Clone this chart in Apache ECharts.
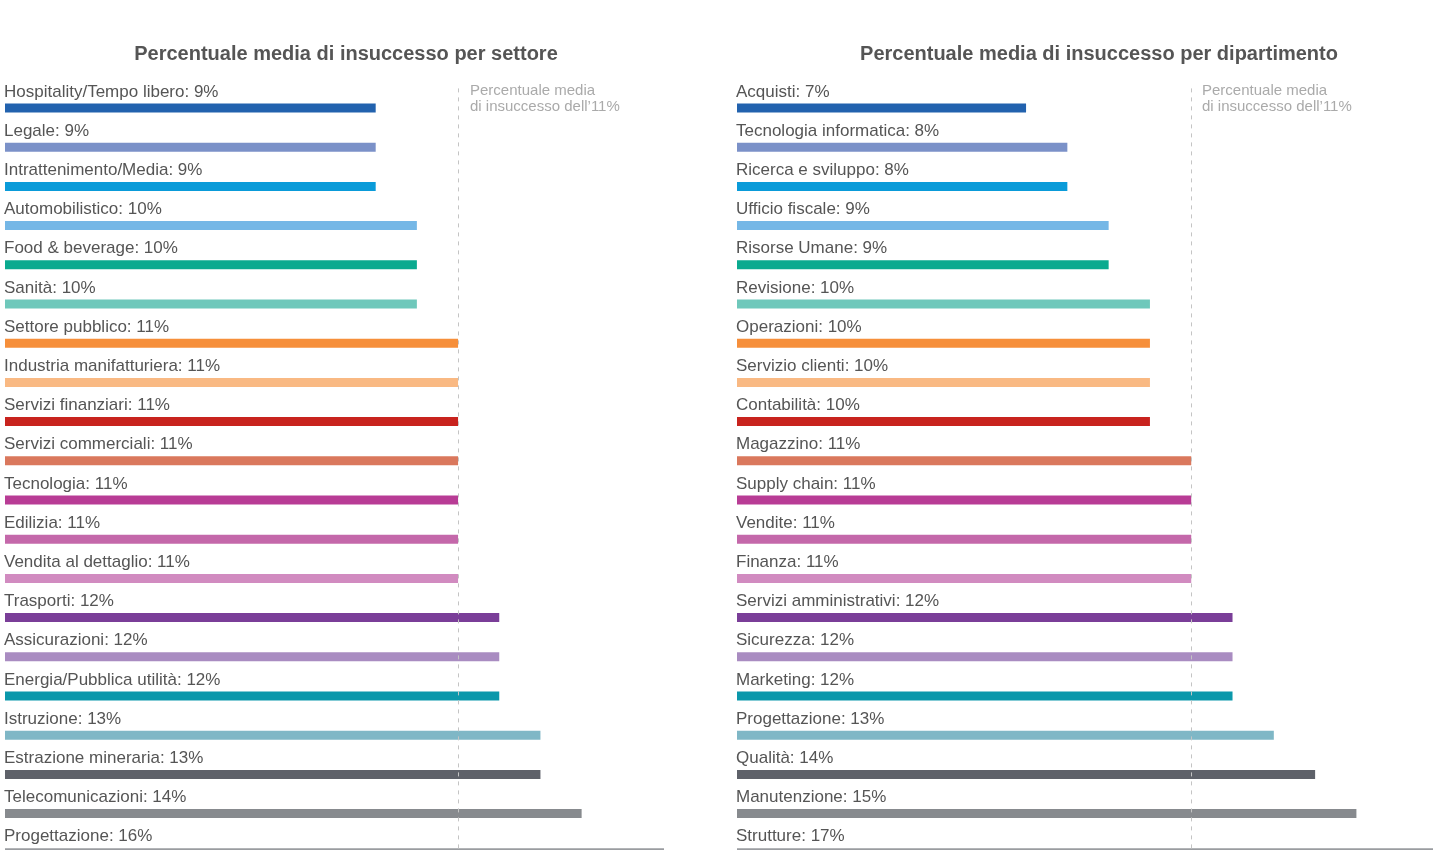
<!DOCTYPE html>
<html>
<head>
<meta charset="utf-8">
<script src="https://cdn.jsdelivr.net/npm/echarts@6/dist/echarts.min.js"></script>
<style>
  html, body { margin: 0; padding: 0; background: #fff; overflow: hidden; }
  /* il grafico continua oltre i bordi destro e inferiore, come nell'originale */
  #chart { width: 1460px; height: 880px; }
</style>
</head>
<body>
<div id="chart"></div>
<script>
// settori (sinistra)
var settori = ['Hospitality/Tempo libero', 'Legale', 'Intrattenimento/Media', 'Automobilistico',
  'Food & beverage', 'Sanità', 'Settore pubblico', 'Industria manifatturiera', 'Servizi finanziari',
  'Servizi commerciali', 'Tecnologia', 'Edilizia', 'Vendita al dettaglio', 'Trasporti',
  'Assicurazioni', 'Energia/Pubblica utilità', 'Istruzione', 'Estrazione mineraria',
  'Telecomunicazioni', 'Progettazione'];
var valoriSettori = [9, 9, 9, 10, 10, 10, 11, 11, 11, 11, 11, 11, 11, 12, 12, 12, 13, 13, 14, 16];

// dipartimenti (destra)
var dipartimenti = ['Acquisti', 'Tecnologia informatica', 'Ricerca e sviluppo', 'Ufficio fiscale',
  'Risorse Umane', 'Revisione', 'Operazioni', 'Servizio clienti', 'Contabilità', 'Magazzino',
  'Supply chain', 'Vendite', 'Finanza', 'Servizi amministrativi', 'Sicurezza', 'Marketing',
  'Progettazione', 'Qualità', 'Manutenzione', 'Strutture'];
var valoriDipartimenti = [7, 8, 8, 9, 9, 10, 10, 10, 10, 11, 11, 11, 11, 12, 12, 12, 13, 14, 15, 17];

var media = 11;

var palette = ['#2262ae', '#7b91c8', '#0a9bd9', '#75b7e6', '#0aaa8f', '#6fc8bb', '#f68f3b',
  '#f9b983', '#c8231e', '#da785d', '#b83c95', '#c468aa', '#d18bc0', '#7a3e98', '#a98cc1',
  '#0b98ab', '#7fb7c6', '#5e6169', '#878a8e', '#9a9ca0'];

var FONT = 'Liberation Sans';
var chart = echarts.init(document.getElementById('chart'));

function serie(idx, nomi, valori) {
  return {
    type: 'bar',
    xAxisIndex: idx,
    yAxisIndex: idx,
    barWidth: 9,
    silent: true,
    data: valori.map(function (v, i) {
      return { value: v, itemStyle: { color: palette[i] } };
    }),
    label: {
      show: true,
      position: [-1, -11.5],
      align: 'left',
      verticalAlign: 'middle',
      fontFamily: FONT,
      fontSize: 17,
      color: '#555',
      formatter: function (p) { return nomi[p.dataIndex] + ': ' + p.value + '%'; }
    },
    markLine: {
      silent: true,
      symbol: 'none',
      label: { show: false },
      lineStyle: { color: '#c4c4c4', width: 1, type: [4, 5] },
      data: [{ xAxis: media }]
    }
  };
}

function asseX(idx, max) {
  return { type: 'value', gridIndex: idx, min: 0, max: max, show: false };
}
function asseY(idx, nomi) {
  return { type: 'category', gridIndex: idx, data: nomi, inverse: true, show: false };
}

var nota = 'Percentuale media\ndi insuccesso dell\u2019' + media + '%';

chart.setOption({
  animation: false,
  title: [
    { text: 'Percentuale media di insuccesso per settore', left: 341, top: 39, textAlign: 'center',
      textStyle: { fontFamily: FONT, fontSize: 20, fontWeight: 'bold', color: '#555' } },
    { text: 'Percentuale media di insuccesso per dipartimento', left: 1094, top: 39, textAlign: 'center',
      textStyle: { fontFamily: FONT, fontSize: 20, fontWeight: 'bold', color: '#555' } }
  ],
  grid: [
    { left: 5, top: 88.4, width: 659, height: 784 },
    { left: 737, top: 88.4, width: 702, height: 784 }
  ],
  xAxis: [asseX(0, 16), asseX(1, 17)],
  yAxis: [asseY(0, settori), asseY(1, dipartimenti)],
  series: [serie(0, settori, valoriSettori), serie(1, dipartimenti, valoriDipartimenti)],
  graphic: [
    { type: 'text', left: 470, top: 83,
      style: { text: nota, font: '15px ' + FONT, fill: '#aaa', lineHeight: 16 } },
    { type: 'text', left: 1202, top: 83,
      style: { text: nota, font: '15px ' + FONT, fill: '#aaa', lineHeight: 16 } },
    { type: 'line', shape: { x1: 5, y1: 849.5, x2: 663, y2: 849.5 },
      style: { stroke: '#c8c8c8', lineWidth: 1 } },
    { type: 'line', shape: { x1: 737, y1: 849.5, x2: 1433, y2: 849.5 },
      style: { stroke: '#c8c8c8', lineWidth: 1 } }
  ]
});
</script>
</body>
</html>
